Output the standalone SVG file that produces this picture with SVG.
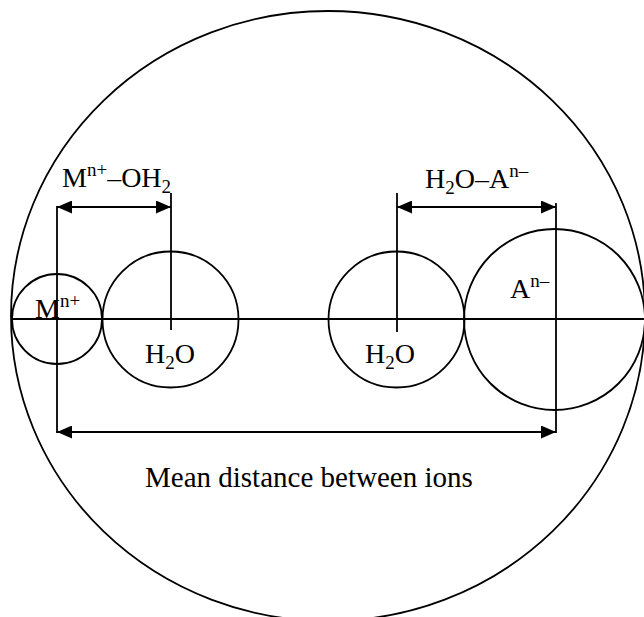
<svg xmlns="http://www.w3.org/2000/svg" width="644" height="617" viewBox="0 0 644 617">
<style>
.o{fill:none;stroke:#000;stroke-width:1.8}
.l{stroke:#000;stroke-width:1.8;fill:none}
.a{stroke:#000;stroke-width:1.8;fill:none;marker-start:url(#ah);marker-end:url(#ah)}
text{font-family:"Liberation Serif","Times New Roman",serif;fill:#000}
.t{font-size:28px}
.m{font-size:29px}
.s{font-size:19px}
</style>
<defs>
<marker id="ah" viewBox="0 0 15 13" refX="15" refY="6.5" markerWidth="15" markerHeight="13" markerUnits="userSpaceOnUse" orient="auto-start-reverse">
<path d="M0,0 L15,6.5 L0,13 z" fill="#000"/>
</marker>
</defs>
<rect width="644" height="617" fill="#fff"/>
<g id="boundary"><ellipse class="o" cx="328" cy="316" rx="317" ry="305"/></g>
<g id="axis"><line class="l" x1="12" y1="319" x2="644" y2="319"/></g>
<g id="cation"><circle class="o" cx="57" cy="319" r="45"/>
<text class="t" x="35" y="318">M<tspan class="s" dy="-11">n+</tspan></text></g>
<g id="water1"><circle class="o" cx="170.5" cy="319.5" r="68"/>
<text class="t" x="145" y="363">H<tspan class="s" dy="6">2</tspan><tspan dy="-6">O</tspan></text></g>
<g id="water2"><circle class="o" cx="396.5" cy="319.5" r="68"/>
<text class="t" x="365" y="363">H<tspan class="s" dy="6">2</tspan><tspan dy="-6">O</tspan></text></g>
<g id="anion"><circle class="o" cx="554.5" cy="319.5" r="90.5"/>
<text class="t" x="510" y="298">A<tspan class="s" dy="-11">n–</tspan></text></g>
<g id="connectors">
<line class="l" x1="57" y1="206" x2="57" y2="433"/>
<line class="l" x1="171" y1="193" x2="171" y2="330"/>
<line class="l" x1="397" y1="193" x2="397" y2="332"/>
<line class="l" x1="556" y1="203" x2="556" y2="433"/>
<line class="a" x1="57" y1="207" x2="171" y2="207"/>
<line class="a" x1="397" y1="207" x2="556" y2="207"/>
<line class="a" x1="57" y1="432" x2="556" y2="432"/>
</g>
<g id="labels">
<text class="t" x="62" y="187">M<tspan class="s" dy="-11">n+</tspan><tspan dy="11">–OH</tspan><tspan class="s" dy="6">2</tspan></text>
<text class="t" x="425" y="188">H<tspan class="s" dy="6">2</tspan><tspan dy="-6">O–A</tspan><tspan class="s" dy="-11">n–</tspan></text>
<text class="m" x="145" y="487">Mean distance between ions</text>
</g>
</svg>
